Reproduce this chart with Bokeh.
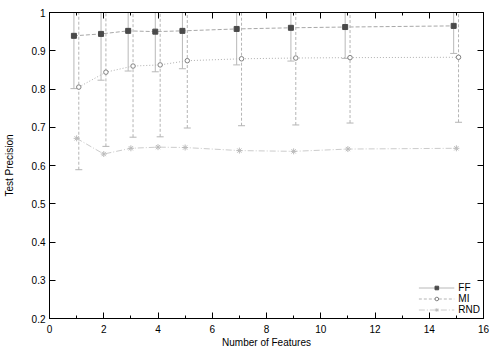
import numpy as np
from bokeh.plotting import figure
from bokeh.models import (Range1d, FixedTicker, LinearAxis, Legend, LegendItem,
                          PrintfTickFormatter)
from bokeh.embed import file_html
from bokeh.resources import INLINE

# ---- data ----
features = [1, 2, 3, 4, 5, 7, 9, 11, 15]
ff_mean = [0.939, 0.944, 0.952, 0.950, 0.952, 0.957, 0.960, 0.962, 0.965]
ff_err = [0.138, 0.121, 0.105, 0.105, 0.099, 0.094, 0.087, 0.082, 0.072]
mi_mean = [0.805, 0.844, 0.860, 0.863, 0.874, 0.879, 0.881, 0.882, 0.883]
mi_err = [0.216, 0.194, 0.186, 0.188, 0.176, 0.175, 0.175, 0.171, 0.170]
rnd_mean = [0.671, 0.630, 0.645, 0.648, 0.647, 0.639, 0.637, 0.643, 0.645]

x_ticks = [0, 2, 4, 6, 8, 10, 12, 14, 16]
x_minor = [1, 3, 5, 7, 9, 11, 13, 15]
y_ticks = [0.2, 0.3, 0.4, 0.5, 0.6, 0.7, 0.8, 0.9, 1.0]

FONT = "Liberation Sans"
FS = "10px"

f = np.array(features, dtype=float)
ff_x = f - 0.1
mi_x = f + 0.08
ffm = np.array(ff_mean); ffe = np.array(ff_err)
mim = np.array(mi_mean); mie = np.array(mi_err)

p = figure(width=500, height=350, x_range=Range1d(0, 16), y_range=Range1d(0.2, 1.0),
           output_backend="svg", toolbar_location=None,
           min_border_left=49, min_border_right=17, min_border_top=12, min_border_bottom=29)
p.background_fill_color = "white"
p.border_fill_color = "white"
p.outline_line_color = "black"
p.outline_line_width = 1
p.xgrid.visible = False
p.ygrid.visible = False

def style_axis(ax, labels=True):
    ax.major_tick_in = 6
    ax.major_tick_out = 0
    ax.minor_tick_in = 3
    ax.minor_tick_out = 0
    ax.axis_line_color = "black"
    ax.major_tick_line_color = "black"
    ax.minor_tick_line_color = "black"
    ax.major_label_text_font = FONT
    ax.major_label_text_font_size = FS
    ax.major_label_text_color = "black" if labels else None
    ax.axis_label_text_font = FONT
    ax.axis_label_text_font_size = FS
    ax.axis_label_text_font_style = "normal"
    ax.axis_label_text_color = "black"

xt = FixedTicker(ticks=x_ticks, minor_ticks=x_minor)
yt = FixedTicker(ticks=y_ticks, minor_ticks=[])

p.xaxis.ticker = xt
p.yaxis.ticker = yt
p.yaxis.formatter = PrintfTickFormatter(format="%g")
p.xaxis.axis_label = "Number of Features"
p.yaxis.axis_label = "Test Precision"
style_axis(p.xaxis[0])
style_axis(p.yaxis[0])
p.xaxis.major_label_standoff = 6
p.xaxis.axis_label_standoff = 1
p.yaxis.major_label_standoff = 4
p.yaxis.axis_label_standoff = 14

top = LinearAxis(ticker=xt)
style_axis(top, labels=False)
p.add_layout(top, "above")
right = LinearAxis(ticker=yt)
style_axis(right, labels=False)
p.add_layout(right, "right")
for ax in (top, right):
    ax.major_label_standoff = 0
    ax.minor_tick_in = 0
top.minor_tick_in = 3

# ---- FF ----
ff_bar = p.segment(x0=ff_x, y0=ffm - ffe, x1=ff_x, y1=ffm + ffe, line_color="#b8b8b8", line_width=1)
p.scatter(ff_x, ffm - ffe, marker="dash", size=7, line_color="#b8b8b8")
p.scatter(ff_x, ffm + ffe, marker="dash", size=7, line_color="#b8b8b8")
ff_line = p.line(ff_x, ffm, line_color="#a8a8a8", line_dash="4 2", line_width=1)
ff_pts = p.scatter(ff_x, ffm, marker="square", size=5, fill_color="#4a4a4a", line_color="#4a4a4a")

# ---- MI ----
mi_bar = p.segment(x0=mi_x, y0=mim - mie, x1=mi_x, y1=mim + mie, line_color="#b4b4b4",
                   line_width=1, line_dash="3 2")
p.scatter(mi_x, mim - mie, marker="dash", size=7, line_color="#b4b4b4")
p.scatter(mi_x, mim + mie, marker="dash", size=7, line_color="#b4b4b4")
mi_line = p.line(mi_x, mim, line_color="#b0b0b0", line_dash="1 2", line_width=1)
mi_pts = p.scatter(mi_x, mim, marker="circle", size=4.5, fill_color="white", line_color="#808080")

# ---- RND ----
rnd_line = p.line(f, rnd_mean, line_color="#cccccc", line_dash="6 2 1 2", line_width=1)
rnd_pts = p.scatter(f, rnd_mean, marker="asterisk", size=6, line_color="#bbbbbb")

legend = Legend(items=[
    LegendItem(label="FF", renderers=[ff_bar, ff_pts]),
    LegendItem(label="MI", renderers=[mi_bar, mi_pts]),
    LegendItem(label="RND", renderers=[rnd_line, rnd_pts]),
], location="bottom_right")
legend.background_fill_alpha = 0
legend.border_line_alpha = 0
legend.label_text_font = FONT
legend.label_text_font_size = FS
legend.label_text_color = "black"
legend.glyph_width = 36
legend.glyph_height = 9
legend.label_height = 9
legend.spacing = 0
legend.padding = 0
legend.margin = 3
legend.label_standoff = 4
p.add_layout(legend)

open("out.html", "w").write(file_html(p, INLINE))
